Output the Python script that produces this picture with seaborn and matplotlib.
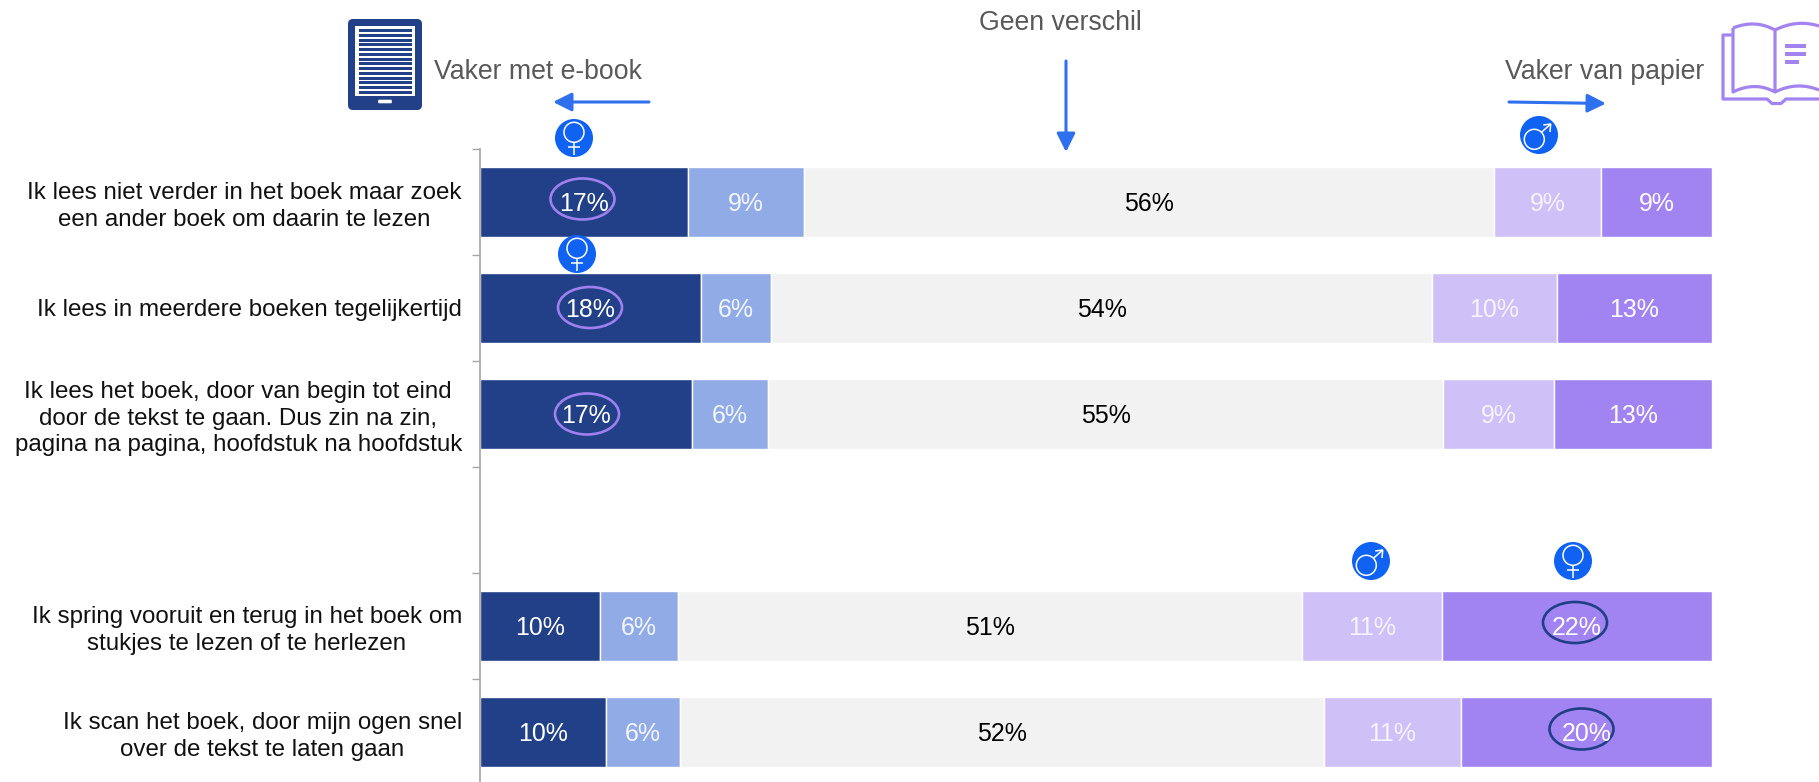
import matplotlib
matplotlib.use("Agg")
import matplotlib.pyplot as plt
import seaborn as sns
from matplotlib.patches import Circle, Ellipse, FancyBboxPatch, PathPatch, Rectangle
from matplotlib.path import Path
from matplotlib.transforms import Affine2D

categories = [
    "Ik lees niet verder in het boek maar zoek\neen ander boek om daarin te lezen",
    "Ik lees in meerdere boeken tegelijkertijd",
    "Ik lees het boek, door van begin tot eind\ndoor de tekst te gaan. Dus zin na zin,\npagina na pagina, hoofdstuk na hoofdstuk",
    "Ik spring vooruit en terug in het boek om\nstukjes te lezen of te herlezen",
    "Ik scan het boek, door mijn ogen snel\nover de tekst te laten gaan",
]
row_order = categories[:3] + [" "] + categories[3:]

much_ebook = [16.9, 17.9, 17.2, 9.7, 10.2]
some_ebook = [9.4, 5.7, 6.2, 6.4, 6.0]
no_diff = [56.0, 53.7, 54.8, 50.6, 52.3]
some_paper = [8.7, 10.1, 9.0, 11.4, 11.1]
much_paper = [9.0, 12.6, 12.8, 21.9, 20.4]

series = [much_ebook, some_ebook, no_diff, some_paper, much_paper]
colors = ["#214087", "#90ABE6", "#F2F2F2", "#CFC0F8", "#A183F1"]
label_colors = ["white", "#F4F6FD", "black", "#F7F4FE", "white"]

W, H = 1819, 782
FONT = "Liberation Sans"
sns.set_theme(style="white")
plt.rcParams["font.family"] = [FONT, "DejaVu Sans"]

fig = plt.figure(figsize=(W / 100, H / 100), dpi=100)
top_px, bottom_px, left_px, right_px = 149, 782, 480, 1712
ax = fig.add_axes([left_px / W, 0, (right_px - left_px) / W, (H - top_px) / H])

cum = [0.0] * len(categories)
for vals, col, lab_col in zip(series, colors, label_colors):
    sns.barplot(x=vals, y=categories, order=row_order, left=cum, color=col,
                saturation=1, width=0.655, errorbar=None, orient="y",
                edgecolor="white", linewidth=1.0, ax=ax)
    labels = ax.bar_label(ax.containers[-1], fmt="{:.0f}%", label_type="center",
                          color=lab_col, fontsize=17.9, zorder=5)
    for t in labels:
        t.xyann = (0, -1.2)
    cum = [c + v for c, v in zip(cum, vals)]

ax.set_xlim(0, 100)
ax.set_ylim(5.4717, -0.5)
ax.set_xlabel("")
ax.set_ylabel("")
ax.xaxis.set_visible(False)
ax.set_yticks(range(6), labels=row_order, fontsize=17.4, color="#111111",
              ha="right", multialignment="center", linespacing=1.25)
ax.set_yticks([i - 0.5 for i in range(6)], minor=True)
ax.tick_params(axis="y", which="major", length=0, pad=13, left=False)
ax.tick_params(axis="y", which="minor", length=5.5, width=1, color="#A6A6A6", left=True)
sns.despine(ax=ax, top=True, right=True, bottom=True)
ax.spines["left"].set_color("#A6A6A6")
ax.spines["left"].set_linewidth(1.2)

# Pixel-space transform for the annotation layer
px = Affine2D().scale(1 / W, -1 / H).translate(0, 1) + fig.transFigure


def add(p, z=6):
    p.set_transform(px)
    p.set_clip_on(False)
    p.set_zorder(z)
    ax.add_patch(p)


def note(x, y, s, **kw):
    ax.text(x, y, s, transform=px, fontsize=19.2, color="#595959", clip_on=False, **kw)


def arrow(x0, y0, x1, y1):
    ax.annotate("", xy=(x1, y1), xytext=(x0, y0), xycoords=px, textcoords=px,
                arrowprops=dict(arrowstyle="-|>", color="#2E70EE", lw=2.2, shrinkA=0,
                                shrinkB=0, mutation_scale=28))


note(434, 79, "Vaker met e-book", ha="left", va="baseline")
note(1505, 79, "Vaker van papier", ha="left", va="baseline")
note(1060, 30, "Geen verschil", ha="center", va="baseline")
arrow(649, 102, 553, 102)
arrow(1509, 102, 1606, 103.5)
arrow(1066, 61, 1066, 152)

# e-book icon
add(FancyBboxPatch((351, 22), 68, 85, boxstyle="round,pad=3,rounding_size=5",
                   fc="#214087", ec="none"))
add(Rectangle((355, 26), 60, 70, fc="white", ec="none"), 7)
for i in range(14):
    add(Rectangle((359, 29 + i * 4.77), 53, 3, fc="#214087", ec="none"), 8)
add(FancyBboxPatch((379, 100.5), 12, 2, boxstyle="round,pad=0.8", fc="white", ec="none"), 7)

# paper book icon
BOOK = "#A383F0"
C3, L, M = Path.CURVE3, Path.LINETO, Path.MOVETO
left_page = Path([(1733, 28), (1755, 19), (1775, 30), (1775, 92), (1755, 81), (1733, 92), (1733, 28)],
                 [M, C3, C3, L, C3, C3, L])
right_top = Path([(1775, 30), (1797, 19), (1819, 26)], [M, C3, C3])
right_bottom = Path([(1775, 92), (1797, 81), (1819, 90)], [M, C3, C3])
cover = Path([(1733, 35), (1723, 35), (1723, 99), (1767, 99), (1772, 103.5), (1781, 103.5), (1786, 99), (1819, 99)],
             [M, L, L, L, L, L, L, L])
for p in (left_page, right_top, right_bottom, cover):
    add(PathPatch(p, fc="none", ec=BOOK, lw=2.3, joinstyle="round"))
for y, x1 in ((46, 1806), (54, 1806), (62, 1799)):
    add(Rectangle((1785, y - 2), x1 - 1785, 4, fc=BOOK, ec="none"))


# gender badges
def badge(cx, cy):
    add(Circle((cx, cy), 19, fc="#0F62F2", ec="none"))


def seg(pts):
    codes = [M] + [L] * (len(pts) - 1)
    add(PathPatch(Path(pts, codes), fc="none", ec="white", lw=1.1), 7)


def female(cx, cy):
    badge(cx, cy)
    add(Circle((cx, cy - 5.7), 10, fc="none", ec="white", lw=1.1), 7)
    seg([(cx, cy + 4.3), (cx, cy + 16.5)])
    seg([(cx - 5.7, cy + 8.8), (cx + 5.7, cy + 8.8)])


def male(cx, cy):
    badge(cx, cy)
    add(Circle((cx - 4.7, cy + 4.3), 10, fc="none", ec="white", lw=1.1), 7)
    seg([(cx + 2.5, cy - 2.8), (cx + 11.7, cy - 11)])
    seg([(cx + 4.3, cy - 10), (cx + 11.7, cy - 11), (cx + 11, cy - 3)])


female(574, 138)
female(577, 254)
male(1539, 135)
male(1371, 561)
female(1573, 561)

# highlight ellipses sit under the value labels
for cx, cy, col in ((582.5, 199, "#A080EE"), (590, 307.5, "#A080EE"), (587, 414, "#A080EE"),
                    (1575, 622.5, "#1F3F86"), (1581.5, 729, "#1F3F86")):
    add(Ellipse((cx, cy), 64, 41, fc="none", ec=col, lw=1.9), 4)

fig.savefig("out.png", dpi=100)
